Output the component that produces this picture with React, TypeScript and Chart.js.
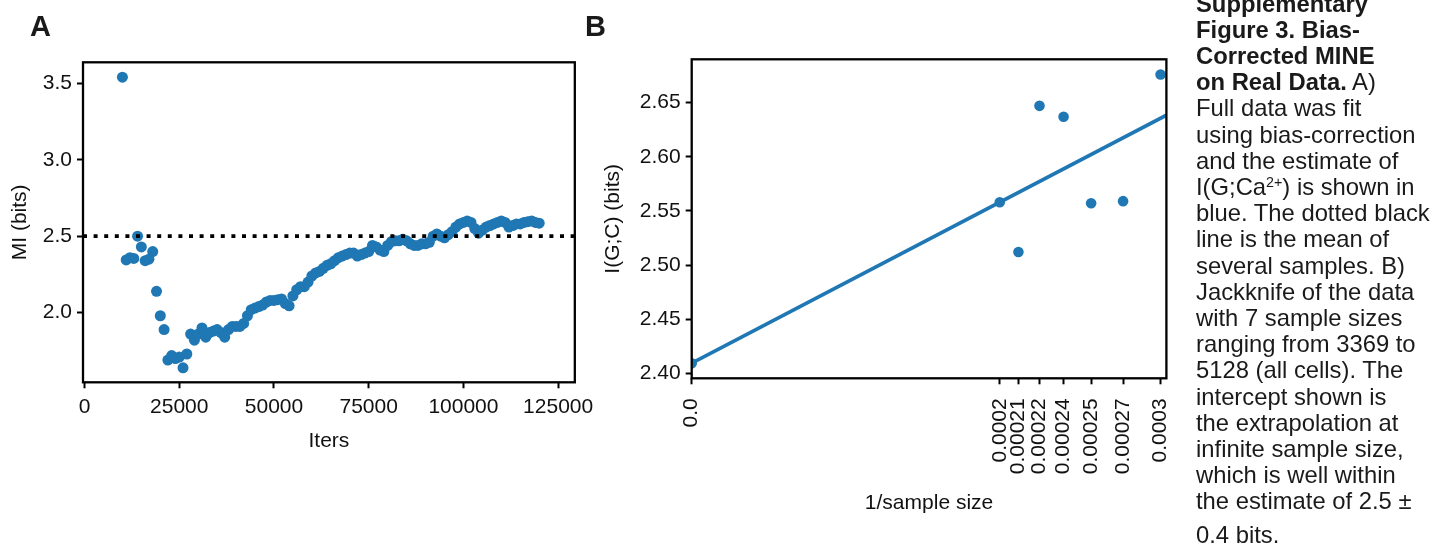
import React, { useEffect, useRef } from "react";
import { Chart, registerables } from "chart.js";

Chart.register(...registerables);

const FONT = '"Liberation Sans", Arial, Helvetica, sans-serif';
const BLUE = "#1f77b4";
const INK = "#111111";
const TICK_SIZE = 21;

// ---------- Panel A: MI estimate over training iterations ----------
const ITERS = [
  10000, 11000, 12000, 13000, 14000, 15000, 16000, 17000, 18000, 19000,
  20000, 21000, 22000, 23000, 24000, 25000, 26000, 27000, 28000, 29000,
  30000, 31000, 32000, 33000, 34000, 35000, 36000, 37000, 38000, 39000,
  40000, 41000, 42000, 43000, 44000, 45000, 46000, 47000, 48000, 49000,
  50000, 51000, 52000, 53000, 54000, 55000, 56000, 57000, 58000, 59000,
  60000, 61000, 62000, 63000, 64000, 65000, 66000, 67000, 68000, 69000,
  70000, 71000, 72000, 73000, 74000, 75000, 76000, 77000, 78000, 79000,
  80000, 81000, 82000, 83000, 84000, 85000, 86000, 87000, 88000, 89000,
  90000, 91000, 92000, 93000, 94000, 95000, 96000, 97000, 98000, 99000,
  100000, 101000, 102000, 103000, 104000, 105000, 106000, 107000, 108000, 109000,
  110000, 111000, 112000, 113000, 114000, 115000, 116000, 117000, 118000, 119000,
  120000,
];
const MI_BITS = [
  3.54, 2.345, 2.36, 2.355, 2.5, 2.43, 2.34, 2.35, 2.4, 2.14,
  1.98, 1.89, 1.69, 1.72, 1.7, 1.71, 1.64, 1.73, 1.86, 1.82,
  1.86, 1.9, 1.84, 1.87, 1.88, 1.89, 1.87, 1.84, 1.89, 1.91,
  1.91, 1.91, 1.93, 1.98, 2.02, 2.03, 2.04, 2.05, 2.07, 2.08,
  2.08, 2.085, 2.09, 2.06, 2.045, 2.11, 2.15, 2.17, 2.17, 2.2,
  2.24, 2.26, 2.27, 2.29, 2.31, 2.32, 2.34, 2.36, 2.37, 2.38,
  2.39, 2.39, 2.37, 2.38, 2.39, 2.4, 2.44, 2.43, 2.41, 2.4,
  2.44, 2.465, 2.47, 2.47, 2.48, 2.47, 2.45, 2.44, 2.44, 2.45,
  2.45, 2.46, 2.5, 2.515, 2.5, 2.49, 2.51, 2.53, 2.56, 2.58,
  2.59, 2.6, 2.59, 2.55, 2.52, 2.54, 2.56, 2.57, 2.58, 2.59,
  2.6, 2.59, 2.56, 2.57, 2.58, 2.58, 2.59, 2.595, 2.6, 2.59,
  2.585,
];
const MEAN_MI = 2.5;
const A_X_TICKS = [0, 25000, 50000, 75000, 100000, 125000];
const A_X_LABELS = ["0", "25000", "50000", "75000", "100000", "125000"];
const A_Y_TICKS = [2.0, 2.5, 3.0, 3.5];
const A_Y_LABELS = ["2.0", "2.5", "3.0", "3.5"];
const A_X_MIN = -400;
const A_X_MAX = 129400;
const A_Y_MIN = 1.545;
const A_Y_MAX = 3.637;

// ---------- Panel B: jackknife over sample sizes ----------
const SAMPLE_SIZES = [5128, 4835, 4542, 4248, 3955, 3662, 3369];
const JACKKNIFE_MI = [2.558, 2.512, 2.647, 2.637, 2.557, 2.559, 2.676];
const B_X_TICK_LABELS = ["0.0", "0.0002", "0.00021", "0.00022", "0.00024", "0.00025", "0.00027", "0.0003"];
const B_Y_TICKS = [2.4, 2.45, 2.5, 2.55, 2.6, 2.65];
const B_Y_LABELS = ["2.40", "2.45", "2.50", "2.55", "2.60", "2.65"];
const B_X_MIN = 0;
const B_X_MAX = 0.0003005;
const B_Y_MIN = 2.3954;
const B_Y_MAX = 2.69;

const INV_N = SAMPLE_SIZES.map((n) => 1 / n);

// ordinary least squares line through the jackknife estimates
function leastSquares(xs: number[], ys: number[]) {
  const n = xs.length;
  const mx = xs.reduce((a, b) => a + b, 0) / n;
  const my = ys.reduce((a, b) => a + b, 0) / n;
  let sxy = 0;
  let sxx = 0;
  for (let i = 0; i < n; i++) {
    sxy += (xs[i] - mx) * (ys[i] - my);
    sxx += (xs[i] - mx) * (xs[i] - mx);
  }
  const slope = sxy / sxx;
  return { slope, intercept: my - slope * mx };
}
const FIT = leastSquares(INV_N, JACKKNIFE_MI);

// black box around the plotting area
const framePlugin = {
  id: "frame",
  afterDatasetsDraw(chart: any) {
    const { ctx, chartArea } = chart;
    const { left, top, right, bottom } = chartArea;
    ctx.save();
    ctx.strokeStyle = "#000";
    ctx.lineWidth = 2.3;
    ctx.strokeRect(left, top, right - left, bottom - top);
    ctx.restore();
  },
};

const fixedTicks = (values: number[]) => (scale: any) => {
  scale.ticks = values.map((v) => ({ value: v }));
};

const tickGrid = {
  display: true,
  drawOnChartArea: false,
  drawTicks: true,
  tickLength: 6,
  tickWidth: 2,
  tickColor: "#000",
};

const titleFont = { family: FONT, size: 21 };
const tickFont = { family: FONT, size: TICK_SIZE };

function PanelA() {
  const ref = useRef<HTMLCanvasElement | null>(null);
  useEffect(() => {
    if (!ref.current) return;
    const chart = new Chart(ref.current, {
      type: "scatter",
      data: {
        datasets: [
          {
            type: "line",
            data: [
              { x: A_X_MIN, y: MEAN_MI },
              { x: A_X_MAX, y: MEAN_MI },
            ],
            borderColor: "#000",
            borderWidth: 3.8,
            borderDash: [4, 6.6],
            borderCapStyle: "butt",
            pointRadius: 0,
            fill: false,
            clip: 0,
          } as any,
          {
            data: ITERS.map((x, i) => ({ x, y: MI_BITS[i] })),
            backgroundColor: BLUE,
            borderColor: BLUE,
            borderWidth: 0,
            pointRadius: 5.5,
          },
        ],
      },
      options: {
        responsive: false,
        maintainAspectRatio: false,
        animation: false,
        events: [],
        layout: { padding: { left: 0, top: 62.3, right: 24, bottom: 0 } },
        plugins: { legend: { display: false }, tooltip: { enabled: false } },
        scales: {
          x: {
            type: "linear",
            min: A_X_MIN,
            max: A_X_MAX,
            afterBuildTicks: fixedTicks(A_X_TICKS),
            afterFit: (s: any) => {
              s.height = 546 - 382.3;
            },
            grid: tickGrid,
            border: { display: false },
            ticks: {
              color: INK,
              font: tickFont,
              padding: 6,
              maxRotation: 0,
              autoSkip: false,
              callback: (_v: any, i: number) => A_X_LABELS[i],
            },
            title: {
              display: true,
              text: "Iters",
              color: INK,
              font: titleFont,
              padding: { top: 0, bottom: 92.4 },
            },
          },
          y: {
            type: "linear",
            min: A_Y_MIN,
            max: A_Y_MAX,
            afterBuildTicks: fixedTicks(A_Y_TICKS),
            afterFit: (s: any) => {
              s.width = 83;
            },
            grid: tickGrid,
            border: { display: false },
            ticks: {
              color: INK,
              font: tickFont,
              padding: 5,
              autoSkip: false,
              callback: (_v: any, i: number) => A_Y_LABELS[i],
            },
            title: {
              display: true,
              text: "MI (bits)",
              color: INK,
              font: titleFont,
              padding: { top: 7.4, bottom: 0 },
            },
          },
        },
      } as any,
      plugins: [framePlugin],
    });
    return () => chart.destroy();
  }, []);
  return (
    <canvas
      ref={ref}
      width={600}
      height={546}
      style={{ position: "absolute", left: 0, top: 0, width: 600, height: 546, display: "block" }}
    />
  );
}

function PanelB() {
  const ref = useRef<HTMLCanvasElement | null>(null);
  useEffect(() => {
    if (!ref.current) return;
    const chart = new Chart(ref.current, {
      type: "scatter",
      data: {
        datasets: [
          {
            data: INV_N.map((x, i) => ({ x, y: JACKKNIFE_MI[i] })),
            backgroundColor: BLUE,
            borderColor: BLUE,
            borderWidth: 0,
            pointRadius: 5.3,
            clip: 0,
          } as any,
          {
            data: [{ x: 0, y: FIT.intercept }],
            backgroundColor: BLUE,
            borderColor: BLUE,
            borderWidth: 0,
            pointRadius: 5.3,
            clip: 0,
          } as any,
          {
            type: "line",
            data: [
              { x: 0, y: FIT.intercept },
              { x: B_X_MAX, y: FIT.intercept + FIT.slope * B_X_MAX },
            ],
            borderColor: BLUE,
            borderWidth: 3.6,
            pointRadius: 0,
            fill: false,
            clip: 0,
          } as any,
        ],
      },
      options: {
        responsive: false,
        maintainAspectRatio: false,
        animation: false,
        events: [],
        layout: { padding: { left: 0, top: 59.3, right: 16.7, bottom: 0 } },
        plugins: { legend: { display: false }, tooltip: { enabled: false } },
        scales: {
          x: {
            type: "linear",
            min: B_X_MIN,
            max: B_X_MAX,
            afterBuildTicks: fixedTicks([0, ...INV_N]),
            afterFit: (s: any) => {
              s.height = 546 - 378.3;
            },
            grid: tickGrid,
            border: { display: false },
            ticks: {
              color: INK,
              font: tickFont,
              padding: 14,
              minRotation: 90,
              maxRotation: 90,
              autoSkip: false,
              callback: (_v: any, i: number) => B_X_TICK_LABELS[i],
            },
            title: {
              display: true,
              text: "1/sample size",
              color: INK,
              font: titleFont,
              padding: { top: 0, bottom: 30.1 },
            },
          },
          y: {
            type: "linear",
            min: B_Y_MIN,
            max: B_Y_MAX,
            afterBuildTicks: fixedTicks(B_Y_TICKS),
            afterFit: (s: any) => {
              s.width = 91.7;
            },
            grid: tickGrid,
            border: { display: false },
            ticks: {
              color: INK,
              font: tickFont,
              padding: 5,
              autoSkip: false,
              callback: (_v: any, i: number) => B_Y_LABELS[i],
            },
            title: {
              display: true,
              text: "I(G;C) (bits)",
              color: INK,
              font: titleFont,
              padding: { top: 0.7, bottom: 0 },
            },
          },
        },
      } as any,
      plugins: [framePlugin],
    });
    return () => chart.destroy();
  }, []);
  return (
    <canvas
      ref={ref}
      width={600}
      height={546}
      style={{ position: "absolute", left: 600, top: 0, width: 600, height: 546, display: "block" }}
    />
  );
}

const letterStyle: React.CSSProperties = {
  position: "absolute",
  fontFamily: FONT,
  fontWeight: 700,
  fontSize: 29,
  lineHeight: "29px",
  color: "#1a1a1a",
};

function Caption() {
  const line: React.CSSProperties = { height: 26.2, lineHeight: "26.2px", whiteSpace: "nowrap" };
  const sup: React.CSSProperties = {
    fontSize: "0.6em",
    position: "relative",
    top: "-0.55em",
    verticalAlign: "baseline",
    lineHeight: 0,
  };
  return (
    <div
      style={{
        position: "absolute",
        left: 1196,
        top: -9.3,
        fontFamily: FONT,
        fontSize: 23.8,
        color: "#1a1a1a",
      }}
    >
      <div style={line}><b>Supplementary</b></div>
      <div style={line}><b>Figure 3. Bias-</b></div>
      <div style={line}><b>Corrected MINE</b></div>
      <div style={line}><b>on Real Data.</b> A)</div>
      <div style={line}>Full data was fit</div>
      <div style={line}>using bias-correction</div>
      <div style={line}>and the estimate of</div>
      <div style={line}>I(G;Ca<span style={sup}>2+</span>) is shown in</div>
      <div style={line}>blue. The dotted black</div>
      <div style={line}>line is the mean of</div>
      <div style={line}>several samples. B)</div>
      <div style={line}>Jackknife of the data</div>
      <div style={line}>with 7 sample sizes</div>
      <div style={line}>ranging from 3369 to</div>
      <div style={line}>5128 (all cells). The</div>
      <div style={line}>intercept shown is</div>
      <div style={line}>the extrapolation at</div>
      <div style={line}>infinite sample size,</div>
      <div style={line}>which is well within</div>
      <div style={line}>the estimate of 2.5 ±</div>
      <div style={{ ...line, marginTop: 8 }}>0.4 bits.</div>
    </div>
  );
}

export default function App() {
  return (
    <div
      style={{
        position: "fixed",
        left: 0,
        top: 0,
        width: 1450,
        height: 546,
        overflow: "hidden",
        background: "#fff",
      }}
    >
      <PanelA />
      <PanelB />
      <div style={{ ...letterStyle, left: 30, top: 11.5 }}>A</div>
      <div style={{ ...letterStyle, left: 585, top: 11.5 }}>B</div>
      <Caption />
    </div>
  );
}
